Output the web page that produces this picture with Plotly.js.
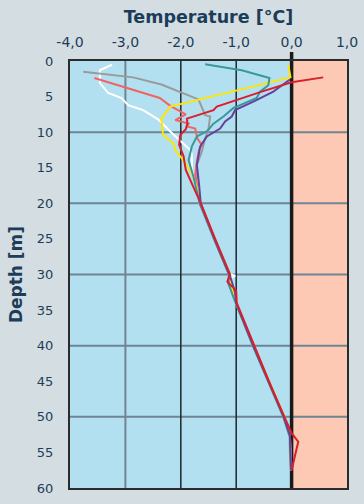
<!DOCTYPE html>
<html>
<head>
<meta charset="utf-8">
<script src="https://cdn.plot.ly/plotly-3.0.1.min.js"></script>
<style>
html,body{margin:0;padding:0;background:#d4dde1;}
#chart{width:364px;height:504px;}
</style>
</head>
<body>
<div id="chart"></div>
<script>
// Depth (m) and temperature (°C) for each profile
var whiteDepth  = [0.5,1.3,3.1,4.5,5.2,6.2,6.9,8.2,9.9,11.6,12.5,13.2,15.3,17.5,20,25,29.9,30.2,30.5,34,40,45,50,52.8,55,57.5];
var whiteTemp   = [-3.24,-3.46,-3.46,-3.31,-3.07,-2.95,-2.68,-2.41,-2.19,-1.95,-1.83,-1.80,-1.80,-1.72,-1.66,-1.40,-1.12,-1.02,-1.10,-1.00,-0.70,-0.42,-0.15,-0.04,-0.02,-0.02];

var grayDepth   = [1.5,2.3,3.3,5.4,7.6,7.8,9.5,10.9,12.7,14.6,17,20,25,30,31,32.5,34,40,45,50,52.8,55,57.5];
var grayTemp    = [-3.76,-2.86,-2.35,-1.68,-1.56,-1.47,-1.50,-1.56,-1.62,-1.71,-1.72,-1.65,-1.40,-1.13,-1.12,-1.03,-1.00,-0.70,-0.42,-0.15,-0.04,-0.03,-0.02];

var pinkDepth   = [2.4,5.2,6.3,7.5,8.3,8.8,9.2,9.5,10.9,11.8,12.5,14.1,16.0,20,25,30,31.2,32.5,34,40,45,50,52.6,55,57.5];
var pinkTemp    = [-3.56,-2.38,-2.19,-1.91,-2.10,-1.86,-1.89,-1.74,-1.70,-1.62,-1.67,-1.71,-1.74,-1.66,-1.40,-1.13,-1.15,-1.02,-1.00,-0.70,-0.42,-0.14,-0.03,-0.02,-0.01];

var yellowDepth = [0.56,2.3,6.4,8.1,10.4,11.6,12.5,13.7,15.8,18.4,20,25,30,31,33.6,40,45,50,52.8,55,57.5];
var yellowTemp  = [-0.06,-0.02,-2.19,-2.35,-2.32,-2.13,-2.10,-1.98,-1.80,-1.68,-1.65,-1.39,-1.12,-1.10,-1.03,-0.68,-0.40,-0.13,-0.03,-0.02,-0.01];

var tealDepth   = [0.47,1.3,2.4,3.4,4.3,5.2,6.2,6.6,7.8,8.8,9.9,10.6,12.0,13.9,16.3,20,25,30,31.3,33.6,40,45,50,52.8,55,57.5];
var tealTemp    = [-1.56,-0.90,-0.40,-0.42,-0.57,-0.63,-0.93,-1.05,-1.23,-1.41,-1.53,-1.71,-1.80,-1.86,-1.77,-1.66,-1.40,-1.13,-1.14,-1.03,-0.70,-0.42,-0.15,-0.03,-0.02,-0.01];

var purpleDepth = [2.6,4.3,5.7,6.2,6.9,7.8,8.5,9.5,10.6,12.0,14.6,17.4,20,25,30,32.5,34,40,45,50,52.6,55,57.5];
var purpleTemp  = [-0.03,-0.33,-0.69,-0.84,-1.02,-1.08,-1.20,-1.29,-1.53,-1.65,-1.71,-1.67,-1.64,-1.39,-1.12,-1.02,-1.00,-0.69,-0.41,-0.14,-0.03,-0.02,-0.01];

var redDepth    = [2.3,3.0,4.3,5.2,6.4,6.9,8.1,8.8,9.6,10.4,11.8,13.4,15.3,17.4,19.8,25,30,31,32.3,34,40,45,50,52.3,53.5,55.4,57.5];
var redTemp     = [0.57,0.0,-0.54,-0.90,-1.35,-1.41,-1.89,-1.88,-1.91,-2.01,-2.03,-1.95,-1.91,-1.79,-1.65,-1.38,-1.11,-1.16,-1.00,-0.99,-0.68,-0.41,-0.13,0.0,0.12,0.06,0.0];

var xTicks = [-4,-3,-2,-1,0,1];
var xTickLabels = ['-4,0','-3,0','-2,0','-1,0','0,0','1,0'];
var yTicks = [0,5,10,15,20,25,30,35,40,45,50,55,60];
var hGrid  = [10,20,30,40,50];
var vGridLight = [-3];
var vGridDark  = [-2,-1];

function tr(x, y, color) {
  return {x: x, y: y, type: 'scatter', mode: 'lines',
          line: {color: color, width: 2}, hoverinfo: 'skip', showlegend: false};
}

var data = [
  tr(whiteTemp, whiteDepth, '#ffffff'),
  tr(grayTemp, grayDepth, '#9a9a9a'),
  tr(pinkTemp, pinkDepth, '#f06464'),
  tr(yellowTemp, yellowDepth, '#ffe500'),
  tr(tealTemp, tealDepth, '#3a979c'),
  tr(purpleTemp, purpleDepth, '#65419e'),
  tr(redTemp, redDepth, '#d91f2c')
];

var shapes = [];
shapes.push({type:'rect', xref:'x', yref:'paper', x0:-4, x1:0, y0:0, y1:1,
             fillcolor:'#b3e0f1', line:{width:0}, layer:'below'});
hGrid.forEach(function(v){
  shapes.push({type:'line', xref:'paper', yref:'y', x0:0, x1:1, y0:v, y1:v,
               line:{color:'#6e8593', width:2}, layer:'below'});
});
vGridLight.forEach(function(v){
  shapes.push({type:'line', xref:'x', yref:'paper', x0:v, x1:v, y0:0, y1:1,
               line:{color:'#6e8593', width:2}, layer:'below'});
});
vGridDark.forEach(function(v){
  shapes.push({type:'line', xref:'x', yref:'paper', x0:v, x1:v, y0:0, y1:1,
               line:{color:'#1e262b', width:1.5}, layer:'below'});
});
shapes.push({type:'line', xref:'x', yref:'paper', x0:0, x1:0, y0:0, y1:1.021,
             line:{color:'#1a1a1a', width:3.5}, layer:'below'});

var font = {family:'"DejaVu Sans", Verdana, sans-serif', color:'#1c3d5a'};

var layout = {
  width: 364, height: 504,
  margin: {l:70, r:17, t:61, b:16, pad:0},
  paper_bgcolor: '#d4dde1',
  plot_bgcolor: '#fdc9b4',
  font: font,
  showlegend: false,
  xaxis: {
    range: [-4, 1], side: 'top', tickvals: xTicks, ticktext: xTickLabels,
    showgrid: false, zeroline: false, showline: true, mirror: true,
    linecolor: '#2b2b2b', linewidth: 2, ticks: '',
    tickfont: {family: font.family, size: 14, color: '#1c3d5a'},
    ticklabelstandoff: 6,
    title: {text: 'Temperature [°C]', font: {family: font.family, size: 17.5, color: '#1c3d5a', weight: 700}, standoff: 6}
  },
  yaxis: {
    range: [60, 0], tickvals: yTicks,
    showgrid: false, zeroline: false, showline: true, mirror: true,
    linecolor: '#2b2b2b', linewidth: 2, ticks: '',
    tickfont: {family: font.family, size: 13, color: '#1c3d5a'},
    ticklabelstandoff: 12,
    title: {text: 'Depth [m]', font: {family: font.family, size: 17, color: '#1c3d5a', weight: 700}, standoff: 10}
  },
  shapes: shapes
};

Plotly.newPlot('chart', data, layout, {staticPlot: true, displayModeBar: false});
</script>
</body>
</html>
